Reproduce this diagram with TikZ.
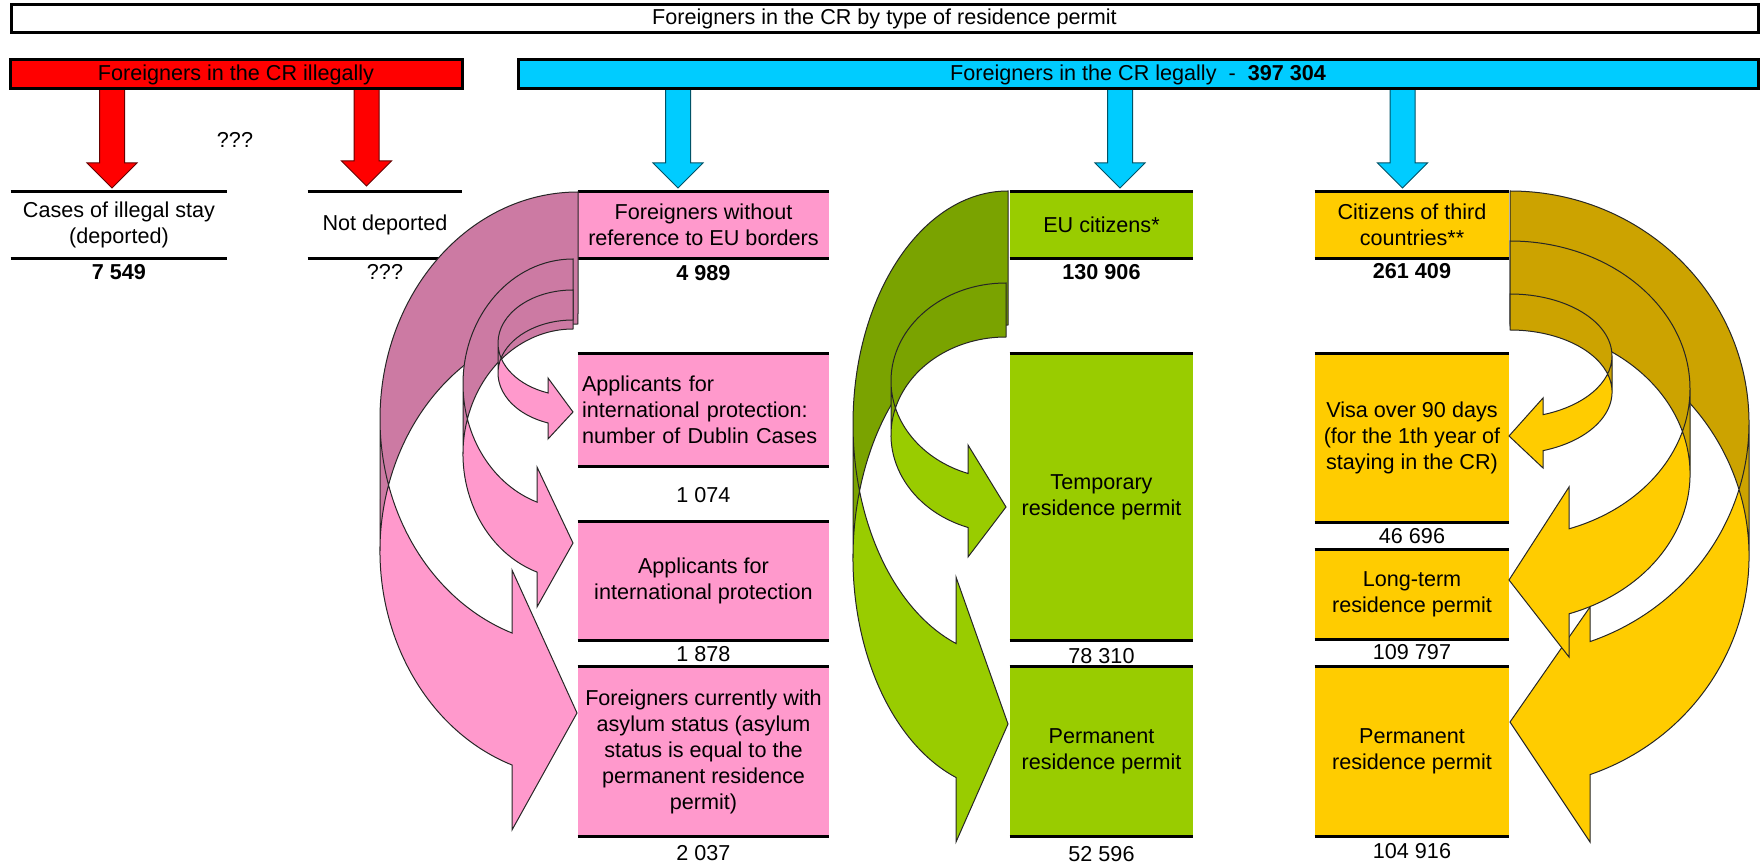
\documentclass[tikz,border=0pt]{standalone}
\usepackage{fontspec}
\setmainfont{Liberation Sans}
\usetikzlibrary{calc}

\definecolor{illred}{HTML}{FF0000}
\definecolor{legblue}{HTML}{00CCFF}
\definecolor{pinkA}{HTML}{FF99CC}
\definecolor{pinkB}{HTML}{CC7AA3}
\definecolor{greenA}{HTML}{99CC00}
\definecolor{greenB}{HTML}{7AA300}
\definecolor{yellowA}{HTML}{FFCC00}
\definecolor{yellowB}{HTML}{CCA300}

% curved band arrow: front, back, width, half height, thickness, shaft offset, barb top, tip, barb bottom
\newcommand{\curvarrow}[9]{%
  \pgfmathsetmacro\angA{180-acos(#6/#3)}%
  \pgfmathsetmacro\yA{#4*(1+sin(\angA))}%
  \pgfmathsetmacro\yB{\yA+#5}%
  \fill[#1] (-#3,#4) arc[start angle=180,end angle=\angA,x radius=#3,y radius=#4]
    -- (-#6,#7) -- (#8) -- (-#6,#9) -- (-#6,\yB)
    arc[start angle=\angA,end angle=180,x radius=#3,y radius=#4] -- cycle;
  \fill[#2] (0,0) arc[start angle=270,end angle=180,x radius=#3,y radius=#4]
    -- (-#3,#4+#5) arc[start angle=180,end angle=270,x radius=#3,y radius=#4] -- cycle;
  \draw[arrline] (0,0) arc[start angle=270,end angle=\angA,x radius=#3,y radius=#4]
    -- (-#6,#7) -- (#8) -- (-#6,#9) -- (-#6,\yB)
    arc[start angle=\angA,end angle=270,x radius=#3,y radius=#4] -- cycle
    (-#3,#4) -- (-#3,#4+#5);
}

% straight block arrow pointing down
\newcommand{\blockarrow}[3]{%
  \draw[#1] ($(#2)+(-12.5,0)$) -- ($(#3)+(-12.5,-25)$) -- ($(#3)+(-25,-25)$) -- (#3)
    -- ($(#3)+(25,-25)$) -- ($(#3)+(12.5,-25)$) -- ($(#2)+(12.5,0)$) -- cycle;}

\begin{document}
\begin{tikzpicture}[x=0.5pt,y=-0.5pt]

  \tikzstyle{every node}=[font=\fontsize{10.8}{13}\selectfont]
  \tikzstyle{box}=[inner sep=0pt,align=center]
  \tikzstyle{bar}=[line width=1.4pt]
  \tikzstyle{num}=[inner sep=0pt]
  \tikzstyle{arrline}=[line width=0.5pt,draw=black!85]
  \tikzstyle{redarr}=[fill=illred,draw=black!60!illred,line width=0.5pt]
  \tikzstyle{bluearr}=[fill=legblue,draw=black!60!legblue,line width=0.5pt]
  \tikzset{sz/.style 2 args={minimum width=#1*0.5pt,minimum height=#2*0.5pt}}

  \useasboundingbox (0,0) rectangle (1762,865);

  \node[box,sz={1747}{28},draw,line width=1.5pt] (title) at (884.5,19) {Foreigners in the CR by type of residence permit};

  % tips of the block arrows
  \coordinate (t1) at (112,188);
  \coordinate (t2) at (366.5,186);
  \coordinate (t3) at (678,188);
  \coordinate (t4) at (1120,188);
  \coordinate (t5) at (1402.5,188);
  \coordinate (hb) at (0,89);

  \blockarrow{redarr}{hb -| t1}{t1}
  \blockarrow{redarr}{hb -| t2}{t2}
  \foreach \t in {t3,t4,t5}
    \blockarrow{bluearr}{hb -| \t}{\t};

  \node[box,sz={452}{29},fill=illred,draw,line width=1.5pt] (illegal) at (236,74.5) {Foreigners in the CR illegally};
  \node[box,sz={1240}{29},fill=legblue,draw,line width=1.5pt] (legal) at (1138,74.5) {Foreigners in the CR legally~~-~~\textbf{397 304}};

  \node (unknown) at (235,140) {???};

  % white boxes
  \node[box,sz={216}{66}] (cases) at (119,225) {Cases of illegal stay\\(deported)};
  \node[box,sz={154}{66}] (notdep) at (385,225) {Not deported};

  % pink column
  \node[box,sz={251}{66},fill=pinkA] (noneu) at (703.5,225) {Foreigners without\\reference to EU borders};
  \node[box,sz={251}{112},fill=pinkA,text width=121.5pt,align=left] (dublin) at (703.5,410) {Applicants for\\international protection:\\number of Dublin Cases};
  \node[box,sz={251}{118},fill=pinkA] (applic) at (703.5,581) {Applicants for\\international protection};
  \node[box,sz={251}{169},fill=pinkA] (asylum) at (703.5,751.5) {Foreigners currently with\\asylum status (asylum\\status is equal to the\\permanent residence\\permit)};

  % green column
  \node[box,sz={183}{66},fill=greenA] (eu) at (1101.5,225) {EU citizens*};
  \node[box,sz={183}{286},fill=greenA] (temp) at (1101.5,497) {Temporary\\residence permit};
  \node[box,sz={183}{169},fill=greenA] (permeu) at (1101.5,751.5) {Permanent\\residence permit};

  % yellow column
  \node[box,sz={194}{66},fill=yellowA] (third) at (1412,225) {Citizens of third\\countries**};
  \node[box,sz={194}{168},fill=yellowA] (visa) at (1412,438) {Visa over 90 days\\(for the 1th year of\\staying in the CR)};
  \node[box,sz={194}{89},fill=yellowA] (longterm) at (1412,594.5) {Long-term\\residence permit};
  \node[box,sz={194}{169},fill=yellowA] (permtc) at (1412,751.5) {Permanent\\residence permit};

  \foreach \n in {cases,notdep,noneu,dublin,applic,asylum,eu,temp,permeu,third,visa,longterm,permtc}
    \draw[bar] (\n.north west) -- (\n.north east) (\n.south west) -- (\n.south east);

  % numbers
  \node[num] (ncases) at (119,272) {\textbf{7 549}};
  \node[num] (nnotdep) at (385,272) {???};
  \node[num] (nnoneu) at (703.5,273) {\textbf{4 989}};
  \node[num] (neu) at (1101.5,272) {\textbf{130 906}};
  \node[num] (nthird) at (1412,271) {\textbf{261 409}};
  \node[num] (ndublin) at (703.5,495) {1 074};
  \node[num] (napplic) at (703.5,654) {1 878};
  \node[num] (nasylum) at (703.5,853) {2 037};
  \node[num] (ntemp) at (1101.5,656) {78 310};
  \node[num] (npermeu) at (1101.5,854) {52 596};
  \node[num] (nvisa) at (1412,536) {46 696};
  \node[num] (nlongterm) at (1412,652) {109 797};
  \node[num] (npermtc) at (1412,851) {104 916};

  % curved arrows, pink
  \begin{scope}[shift={(578,192)}]
    \curvarrow{pinkA}{pinkB}{198}{227}{132}{66}{378}{-1,521}{638}
  \end{scope}
  \begin{scope}[shift={(573,259)}]
    \curvarrow{pinkA}{pinkB}{110}{125}{70}{36}{208}{0,284}{348}
  \end{scope}
  \begin{scope}[shift={(573,290)}]
    \curvarrow{pinkA}{pinkB}{75}{53}{30}{25}{88}{0,122}{149}
  \end{scope}

  % curved arrows, green
  \begin{scope}[shift={(1008,191)}]
    \curvarrow{greenA}{greenB}{155}{233}{134}{52}{386}{0,533}{651}
  \end{scope}
  \begin{scope}[shift={(1006,283)}]
    \curvarrow{greenA}{greenB}{115}{98}{54}{38}{162}{0,224}{274}
  \end{scope}

  % curved arrows, yellow
  \begin{scope}[shift={(1510,191)},xscale=-1]
    \curvarrow{yellowA}{yellowB}{239}{232}{133}{80}{416}{0,531}{651}
  \end{scope}
  \begin{scope}[shift={(1510,241)},xscale=-1]
    \curvarrow{yellowA}{yellowB}{180}{148}{85}{59}{246}{1,339}{416}
  \end{scope}
  \begin{scope}[shift={(1510,294)},xscale=-1]
    \curvarrow{yellowA}{yellowB}{102}{62}{36}{33}{104}{1,142}{174}
  \end{scope}

\end{tikzpicture}
\end{document}
